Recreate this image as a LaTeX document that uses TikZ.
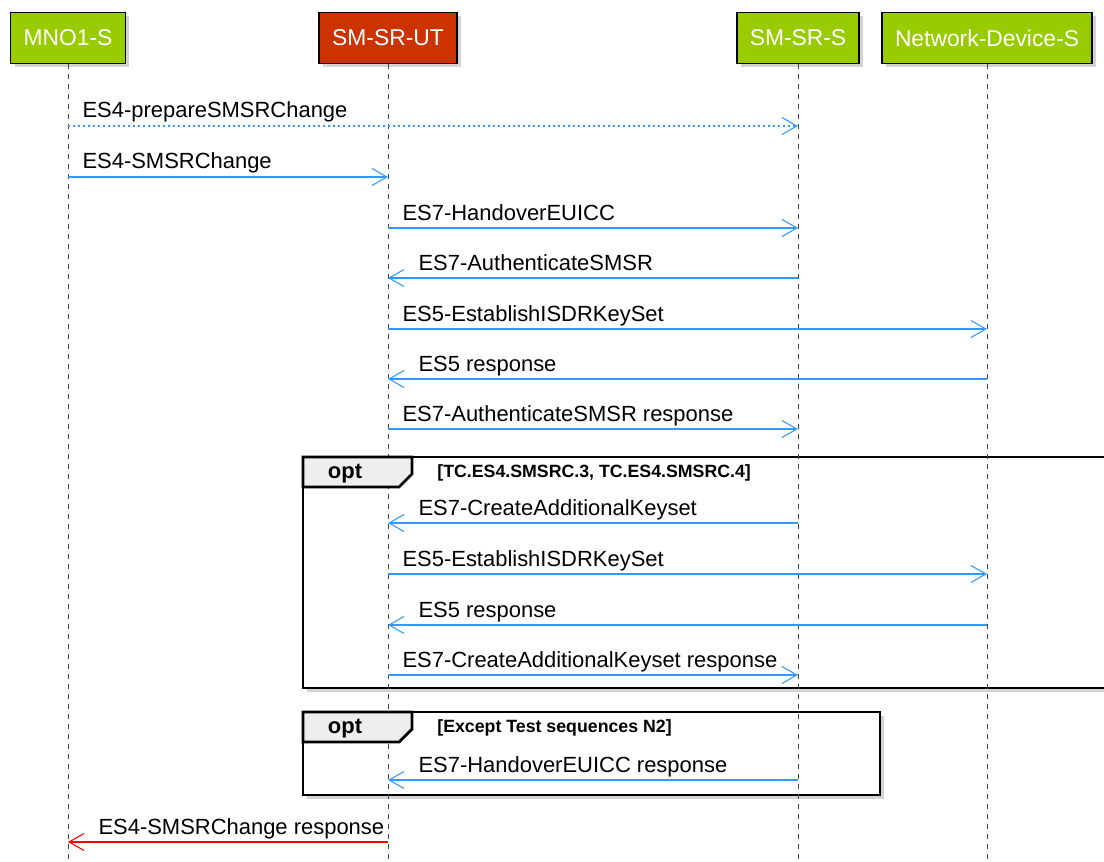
\documentclass[tikz,border=0pt]{standalone}
\usepackage{fontspec}
\setmainfont{Liberation Sans}
\usetikzlibrary{arrows.meta}
\usetikzlibrary{shadows}
\definecolor{partgreen}{HTML}{99CC00}
\definecolor{partred}{HTML}{CC3300}
\definecolor{msgblue}{HTML}{3399FF}
\definecolor{lifegray}{HTML}{444444}
\definecolor{tabgray}{HTML}{EEEEEE}

\begin{document}
\begin{tikzpicture}[x=0.02cm, y=-0.02cm,
    font=\fontsize{12.5}{14}\selectfont,
    party/.style={draw=black, line width=1pt, text=white, minimum height=1.02cm,
      inner xsep=0.26cm, font=\fontsize{13}{15}\selectfont,
      drop shadow={shadow xshift=0.08cm, shadow yshift=-0.08cm, opacity=0.35}},
    life/.style={draw=lifegray, line width=0.5pt, dash pattern=on 0.1cm off 0.1cm},
    msg/.style={draw=msgblue, line width=0.6pt, -{Straight Barb[length=0.3cm, width=0.34cm]}},
    lblr/.style={anchor=base west, text=black, inner xsep=0pt, xshift=0.28cm, yshift=0.16cm},
    lbll/.style={anchor=base west, text=black, inner xsep=0pt, xshift=0.6cm, yshift=0.16cm},
    frame/.style={draw=black, line width=1.6pt, fill=white,
      drop shadow={shadow xshift=0.08cm, shadow yshift=-0.08cm, opacity=0.35}},
    guard/.style={anchor=base west, inner xsep=0pt, font=\fontsize{10.1}{12}\selectfont\bfseries}
  ]
    \clip (0,0) rectangle (1104,861);

    % participants
    \node[party, fill=partgreen] (mno) at (68,38) {MNO1-S};
    \node[party, fill=partred] (ut) at (388,38) {SM-SR-UT};
    \node[party, fill=partgreen] (srs) at (798,38) {SM-SR-S};
    \node[party, fill=partgreen] (nds) at (987,38) {Network-Device-S};

    % opt frames
    \draw[frame] (303,457) rectangle (1114,688);
    \draw[frame] (303,712) rectangle (880,795);

    % lifelines
    \draw[life] (mno.south) -- (mno |- 0,861);
    \draw[life] (ut.south) -- (ut |- 0,861);
    \draw[life] (srs.south) -- (srs |- 0,861);
    \draw[life] (nds.south) -- (nds |- 0,861);

    % frame tabs
    \filldraw[fill=tabgray, draw=black, line width=1.6pt]
      (303,457) -- (412,457) -- (412,474) -- (399,487) -- (303,487) -- cycle;
    \node[font=\fontsize{12.5}{14}\selectfont\bfseries] (opt1) at (345,474) {opt};
    \node[guard] (guard1) at (437,477) {[TC.ES4.SMSRC.3, TC.ES4.SMSRC.4]};
    \filldraw[fill=tabgray, draw=black, line width=1.6pt]
      (303,712) -- (412,712) -- (412,729) -- (399,742) -- (303,742) -- cycle;
    \node[font=\fontsize{12.5}{14}\selectfont\bfseries] (opt2) at (345,729) {opt};
    \node[guard] (guard2) at (437,732) {[Except Test sequences N2]};

    % messages
    \draw[msg, dash pattern=on 0.04cm off 0.06cm] (mno |- 0,126) -- (srs |- 0,126)
      node[pos=0, lblr] {ES4-prepareSMSRChange};
    \draw[msg] (mno |- 0,177) -- (ut |- 0,177) node[pos=0, lblr] {ES4-SMSRChange};
    \draw[msg] (ut |- 0,228) -- (srs |- 0,228) node[pos=0, lblr] {ES7-HandoverEUICC};
    \draw[msg] (srs |- 0,278) -- (ut |- 0,278) node[pos=1, lbll] {ES7-AuthenticateSMSR};
    \draw[msg] (ut |- 0,329) -- (nds |- 0,329) node[pos=0, lblr] {ES5-EstablishISDRKeySet};
    \draw[msg] (nds |- 0,379) -- (ut |- 0,379) node[pos=1, lbll] {ES5 response};
    \draw[msg] (ut |- 0,429) -- (srs |- 0,429)
      node[pos=0, lblr] {ES7-AuthenticateSMSR response};

    \draw[msg] (srs |- 0,523) -- (ut |- 0,523) node[pos=1, lbll] {ES7-CreateAdditionalKeyset};
    \draw[msg] (ut |- 0,574) -- (nds |- 0,574) node[pos=0, lblr] {ES5-EstablishISDRKeySet};
    \draw[msg] (nds |- 0,625) -- (ut |- 0,625) node[pos=1, lbll] {ES5 response};
    \draw[msg] (ut |- 0,675) -- (srs |- 0,675)
      node[pos=0, lblr] {ES7-CreateAdditionalKeyset response};

    \draw[msg] (srs |- 0,780) -- (ut |- 0,780) node[pos=1, lbll] {ES7-HandoverEUICC response};

    \draw[msg, draw=red] (ut |- 0,842) -- (mno |- 0,842)
      node[pos=1, lbll] {ES4-SMSRChange response};
\end{tikzpicture}
\end{document}
